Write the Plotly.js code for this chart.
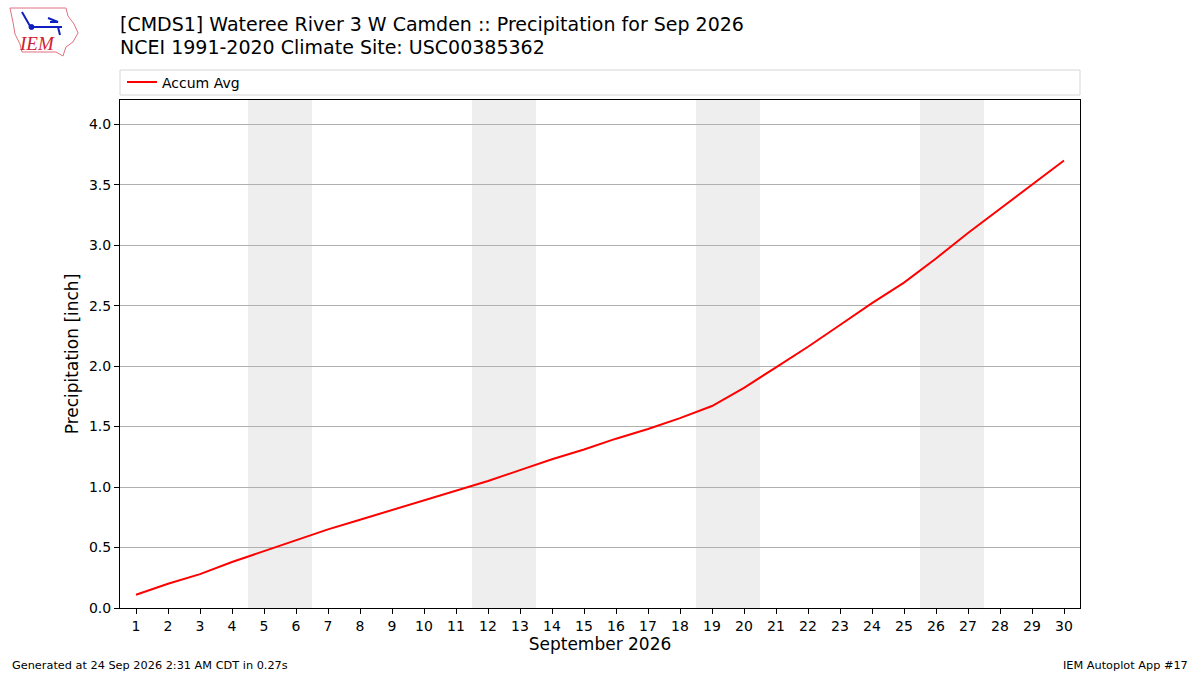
<!DOCTYPE html>
<html>
<head>
<meta charset="utf-8">
<script src="https://cdn.plot.ly/plotly-3.0.1.min.js"></script>
<style>
  body { margin: 0; background: #fff; }
  #chart { width: 1200px; height: 675px; }
</style>
</head>
<body>
<div id="chart"></div>
<script>
// September days and the average accumulated precipitation (inch)
const days = [1, 2, 3, 4, 5, 6, 7, 8, 9, 10, 11, 12, 13, 14, 15,
    16, 17, 18, 19, 20, 21, 22, 23, 24, 25, 26, 27, 28, 29, 30];
const accumAvg = [0.11, 0.20, 0.28, 0.38, 0.47, 0.56, 0.65, 0.73, 0.81, 0.89, 0.97, 1.05, 1.14, 1.23, 1.31,
    1.40, 1.48, 1.57, 1.67, 1.82, 1.99, 2.16, 2.34, 2.52, 2.69, 2.89, 3.10, 3.30, 3.50, 3.70];
// weekend days that get a grey band
const weekends = [[5, 6], [12, 13], [19, 20], [26, 27]];

const W = 1200, H = 675;
const margin = { l: 120, r: 120, t: 100, b: 67 };
const plotW = W - margin.l - margin.r;
const plotH = H - margin.t - margin.b;

// pixel -> paper helpers for the decorations outside the plot
const px = (x) => (x - margin.l) / plotW;
const py = (y) => (H - margin.b - y) / plotH;
const pathFrom = (pts, close) =>
    pts.map((p, i) => (i ? 'L' : 'M') + px(p[0]).toFixed(4) + ',' + py(p[1]).toFixed(4)).join(' ') + (close ? ' Z' : '');

const shapes = weekends.map((w) => ({
    type: 'rect', xref: 'x', yref: 'paper',
    x0: w[0] - 0.5, x1: w[1] + 0.5, y0: 0, y1: 1,
    fillcolor: '#eeeeee', line: { width: 0 }, layer: 'below'
}));

// legend frame stretched across the plot width
shapes.push({
    type: 'rect', xref: 'paper', yref: 'paper',
    x0: 0, x1: 1, y0: py(95), y1: py(70),
    line: { color: '#d6d6d6', width: 1 }, fillcolor: 'rgba(255,255,255,0.8)'
});

// rough IEM logo
shapes.push({
    type: 'path', xref: 'paper', yref: 'paper',
    path: pathFrom([[10, 8], [66, 8], [68, 16], [74, 24], [78, 33], [73, 42], [66, 47], [63, 56],
        [56, 52], [22, 52], [20, 44], [15, 34], [13, 22], [10, 8]], true),
    line: { color: '#e07080', width: 1 }
});
shapes.push({
    type: 'path', xref: 'paper', yref: 'paper',
    path: pathFrom([[30, 27], [62, 27]]) + ' ' + pathFrom([[22, 12], [30, 26]]) + ' ' +
        pathFrom([[48, 18], [58, 22], [50, 22]]) + ' ' + pathFrom([[58, 27], [60, 35]]),
    line: { color: '#1020c0', width: 2 }
});
shapes.push({
    type: 'circle', xref: 'paper', yref: 'paper',
    x0: px(29), x1: px(34), y0: py(29.5), y1: py(24.5),
    fillcolor: '#1020c0', line: { color: '#1020c0', width: 1 }
});

const trace = {
    x: days,
    y: accumAvg,
    type: 'scatter',
    mode: 'lines',
    name: 'Accum Avg',
    line: { color: 'red', width: 2 }
};

const font = 'DejaVu Sans, sans-serif';

const layout = {
    width: W,
    height: H,
    margin: margin,
    paper_bgcolor: '#fff',
    plot_bgcolor: '#fff',
    font: { family: font, size: 14, color: '#000' },
    showlegend: true,
    legend: {
        x: px(122), y: py(82.5), xanchor: 'left', yanchor: 'middle',
        bgcolor: 'rgba(0,0,0,0)', borderwidth: 0,
        font: { family: font, size: 14 }
    },
    xaxis: {
        range: [0.5, 30.5],
        tickmode: 'array',
        tickvals: days,
        ticktext: days.map(String),
        tickfont: { family: font, size: 14 },
        ticks: 'outside', ticklen: 5, tickcolor: '#000',
        showgrid: false, zeroline: false,
        showline: true, linecolor: '#000', linewidth: 1, mirror: true,
        title: { text: 'September 2026', font: { family: font, size: 17 }, standoff: 5 }
    },
    yaxis: {
        range: [0, 4.2],
        dtick: 0.5,
        tickformat: '.1f',
        tickfont: { family: font, size: 14 },
        ticks: 'outside', ticklen: 5, tickcolor: '#000',
        showgrid: true, gridcolor: '#b0b0b0', gridwidth: 1,
        zeroline: false,
        showline: true, linecolor: '#000', linewidth: 1, mirror: true,
        title: { text: 'Precipitation [inch]', font: { family: font, size: 17 }, standoff: 5 }
    },
    shapes: shapes,
    annotations: [
        {
            xref: 'paper', yref: 'paper', x: px(118), y: py(24), xanchor: 'left', yanchor: 'middle',
            text: '[CMDS1] Wateree River 3 W Camden :: Precipitation for Sep 2026',
            showarrow: false, font: { family: font, size: 19 }
        },
        {
            xref: 'paper', yref: 'paper', x: px(118), y: py(47), xanchor: 'left', yanchor: 'middle',
            text: 'NCEI 1991-2020 Climate Site: USC00385362',
            showarrow: false, font: { family: font, size: 19 }
        },
        {
            xref: 'paper', yref: 'paper', x: px(10), y: py(665), xanchor: 'left', yanchor: 'middle',
            text: 'Generated at 24 Sep 2026 2:31 AM CDT in 0.27s',
            showarrow: false, font: { family: font, size: 11.3 }
        },
        {
            xref: 'paper', yref: 'paper', x: px(1190), y: py(665), xanchor: 'right', yanchor: 'middle',
            text: 'IEM Autoplot App #17',
            showarrow: false, font: { family: font, size: 11.3 }
        },
        {
            xref: 'paper', yref: 'paper', x: px(37), y: py(44), xanchor: 'center', yanchor: 'middle',
            text: '<i>IEM</i>',
            showarrow: false, font: { family: 'Liberation Serif, serif', size: 19, color: '#d02030' }
        }
    ]
};

Plotly.newPlot('chart', [trace], layout, { displayModeBar: false, staticPlot: true });
</script>
</body>
</html>
